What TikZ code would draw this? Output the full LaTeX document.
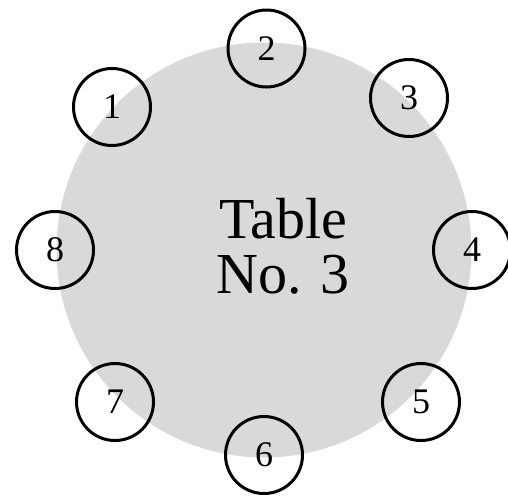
\documentclass[tikz,border=0pt]{standalone}
\usepackage{fontspec}
\setmainfont{Liberation Serif}
\definecolor{tablegray}{HTML}{D9D9D9}
\tikzset{
	seat/.style={draw, circle, line width=3pt, minimum size=77pt, inner sep=0pt, font=\fontsize{36}{36}\selectfont},
	tabletop/.style={fill=tablegray, draw=none}
}

\begin{document}
\begin{tikzpicture}[x=1pt, y=-1pt]
			%%%%% START %%%%%
			\useasboundingbox (0, 0) rectangle (508, 496);
			
			\fill[tabletop] (264, 250) circle (207.5);
			\node[font=\fontsize{58}{55}\selectfont, align=center] (tablename) at (283, 246) {Table\\No. 3};
			
			\node[seat] (seat1) at (112, 107) {1};
			\node[seat] (seat2) at (266.5, 48.5) {2};
			\node[seat] (seat3) at (409, 98) {3};
			\node[seat] (seat4) at (472, 250) {4};
			
			\node[seat] (seat5) at (421, 402) {5};
			\node[seat] (seat6) at (264, 455) {6};
			\node[seat] (seat7) at (115, 402) {7};
			\node[seat] (seat8) at (55, 250) {8};
			
			%%%%% END %%%%%
\end{tikzpicture}
\end{document}
